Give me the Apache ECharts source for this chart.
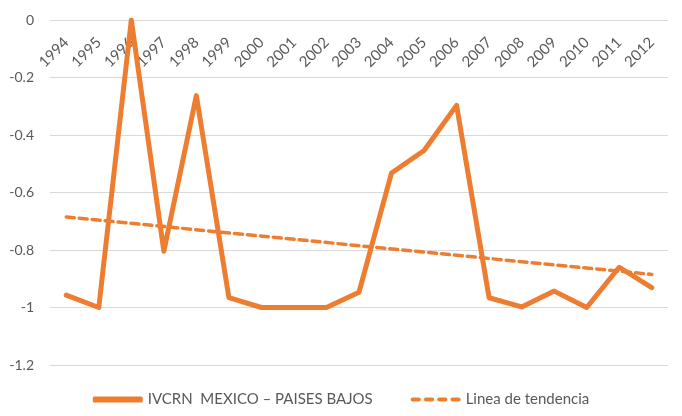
<!DOCTYPE html>
<html>
<head>
<meta charset="utf-8">
<script src="https://cdn.jsdelivr.net/npm/echarts@6/dist/echarts.min.js"></script>
<style>
  html, body { margin: 0; padding: 0; background: #fff; }
  #chart { width: 682px; height: 416px; }
</style>
</head>
<body>
<div id="chart"></div>
<script>
// Years on the category axis
const years = ['1994','1995','1996','1997','1998','1999','2000','2001','2002','2003',
               '2004','2005','2006','2007','2008','2009','2010','2011','2012'];

// IVCRN Mexico – Países Bajos
const ivcrn = [-0.957, -1.0, 0.0, -0.804, -0.263, -0.966, -1.0, -1.0, -1.0, -0.947,
               -0.532, -0.454, -0.297, -0.966, -0.998, -0.943, -1.0, -0.86, -0.931];

// Trend line: values at the first and last year, joined straight
const trend = [-0.685, null, null, null, null, null, null, null, null, null,
               null, null, null, null, null, null, null, null, -0.885];

const yTicks = { min: -1.2, max: 0, step: 0.2 };

const ORANGE = '#ED7D31';
const TEXT = '#595959';
const FONT = 'Lato, "Open Sans", sans-serif';

// Four rounded dashes for the trend line's legend key
const DASH_ICON = 'path://M2,0h6a2,2 0 0 1 0,4h-6a2,2 0 0 1 0,-4z' +
                  'M15,0h6a2,2 0 0 1 0,4h-6a2,2 0 0 1 0,-4z' +
                  'M28,0h6a2,2 0 0 1 0,4h-6a2,2 0 0 1 0,-4z' +
                  'M41,0h6a2,2 0 0 1 0,4h-6a2,2 0 0 1 0,-4z';

const chart = echarts.init(document.getElementById('chart'), null, { renderer: 'canvas' });

chart.setOption({
  animation: false,
  textStyle: { fontFamily: FONT },
  grid: { left: 50, right: 14, top: 20, bottom: 51, containLabel: false },
  xAxis: {
    type: 'category',
    position: 'top',
    data: years,
    boundaryGap: true,
    axisLine: { show: false, onZero: false },
    axisTick: { show: false },
    axisLabel: {
      inside: true,
      rotate: -45,
      margin: 20,
      color: TEXT,
      fontSize: 15,
      fontFamily: FONT,
      interval: 0
    },
    splitLine: { show: false }
  },
  yAxis: {
    type: 'value',
    min: yTicks.min,
    max: yTicks.max,
    interval: yTicks.step,
    axisLine: { show: false },
    axisTick: { show: false },
    axisLabel: {
      color: TEXT,
      fontSize: 14,
      fontFamily: FONT,
      margin: 16,
      formatter: v => String(Math.round(v * 10) / 10)
    },
    splitLine: { lineStyle: { color: '#D9D9D9', width: 1 } }
  },
  legend: {
    bottom: 4,
    left: 'center',
    itemWidth: 50,
    itemHeight: 6,
    itemGap: 38,
    textStyle: { color: TEXT, fontSize: 15, fontFamily: FONT },
    data: [
      { name: 'IVCRN  MEXICO – PAISES BAJOS', icon: 'roundRect' },
      { name: 'Linea de tendencia', icon: DASH_ICON, itemStyle: { color: ORANGE } }
    ]
  },
  series: [
    {
      name: 'IVCRN  MEXICO – PAISES BAJOS',
      type: 'line',
      data: ivcrn,
      symbol: 'none',
      lineStyle: { color: ORANGE, width: 5, join: 'round', cap: 'round' },
      itemStyle: { color: ORANGE },
      z: 3
    },
    {
      name: 'Linea de tendencia',
      type: 'line',
      data: trend,
      connectNulls: true,
      symbol: 'none',
      lineStyle: { color: ORANGE, width: 3.5, type: [8, 5], cap: 'round' },
      itemStyle: { color: ORANGE },
      z: 2
    }
  ]
});
</script>
</body>
</html>
